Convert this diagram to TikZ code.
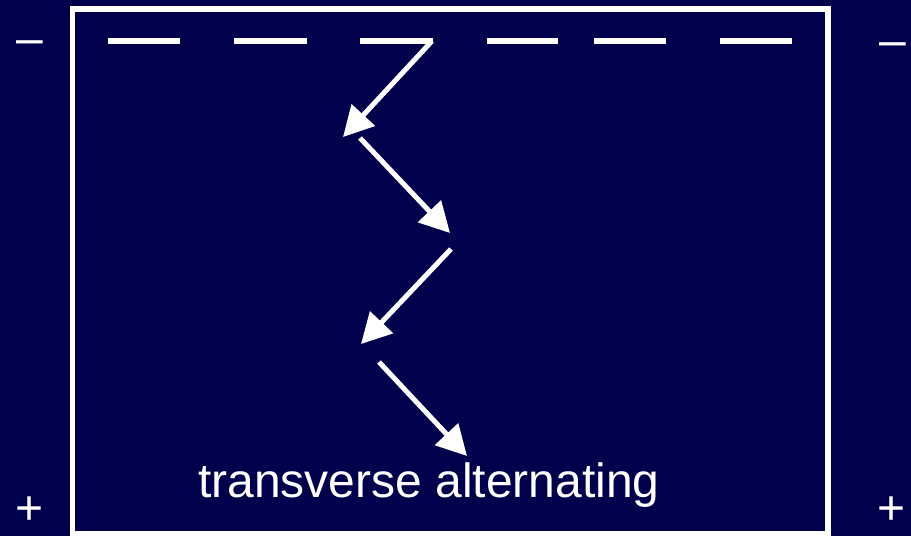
\documentclass[tikz,border=0pt]{standalone}
\usepackage{fontspec}
\setmainfont{Liberation Sans}
\usetikzlibrary{arrows.meta}
\definecolor{bgnavy}{RGB}{0,0,76}
\tikzset{
  frameline/.style={draw=white, line width=5.5pt},
  plate/.style={white, line width=6pt, line cap=butt},
  wave/.style={draw=white, line width=5pt, -{Triangle[length=30pt,width=31pt]}},
  sign/.style={text=white, inner sep=0pt, anchor=base, font=\fontsize{48}{58}\selectfont},
  caption/.style={text=white, inner sep=0pt, anchor=base, font=\fontsize{48}{58}\selectfont}
}
\begin{document}
\begin{tikzpicture}[x=1pt,y=-1pt]
\fill[bgnavy] (0,0) rectangle (911,536);
\useasboundingbox (0,0) rectangle (911,536);
% frame
\draw[frameline] (72.5,9) rectangle (828,533.5);
% top plate (dashed)
\foreach \a/\b in {108/180,234/307,360/433,487/558,594/666,720/792}
  \draw[plate] (\a,41) -- (\b,41);
% arrow coordinates
\coordinate (s1) at (432,41);
\coordinate (e1) at (343,137);
\coordinate (s2) at (360,138);
\coordinate (e2) at (450,233);
\coordinate (s3) at (451,249);
\coordinate (e3) at (361,344);
\coordinate (s4) at (379,362);
\coordinate (e4) at (467,456);
\draw[wave] (s1) -- (e1);
\draw[wave] (s2) -- (e2);
\draw[wave] (s3) -- (e3);
\draw[wave] (s4) -- (e4);
% signs
\node[sign] (ml) at (29.5,54.5) {–};
\node[sign] (mr) at (893,56.5) {–};
\node[sign] (pl) at (30,524.5) {+};
\node[sign] (pr) at (892,524.5) {+};
% caption
\node[caption] (cap) at (429,497) {transverse alternating};
\end{tikzpicture}
\end{document}
